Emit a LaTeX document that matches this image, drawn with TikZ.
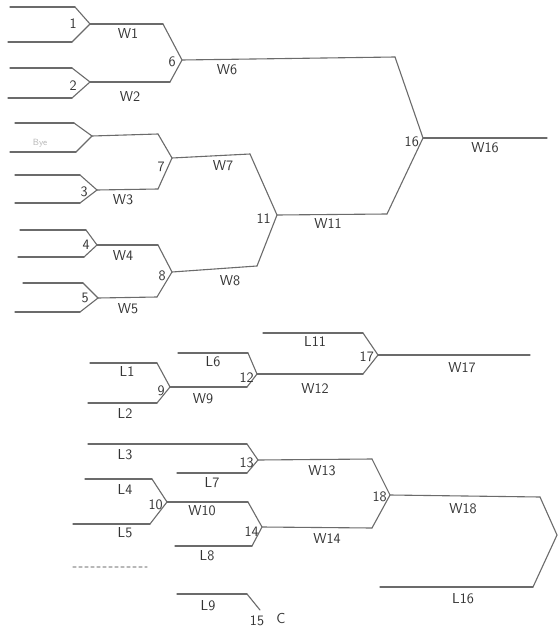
\documentclass[tikz,border=0pt]{standalone}
\usepackage{tikz}
\definecolor{c0}{rgb}{0.42,0.42,0.42}
\definecolor{c1}{rgb}{0.20,0.20,0.20}
\definecolor{c2}{rgb}{0.72,0.72,0.72}
\tikzset{%
  pencil/.style={draw=#1,line width=1.1pt,line cap=round},
  pencil/.default=c0,
  lbl/.style={font=\sffamily\Large,text=c1,inner sep=1pt},
  seed/.style={lbl,anchor=east}
}
\NewDocumentCommand\slot{mmmO{c0}}{%
  \coordinate (#1s) at (#2);
  \coordinate (#1e) at (#3);
  \draw[pencil=#4] (#1s)--(#1e);
}
\NewDocumentCommand\game{mmm}{%
  \draw[pencil] (#2)--(#1)--(#3);
}

\begin{document}
\begin{tikzpicture}[x=1pt,y=-1pt]
  \useasboundingbox[fill=white] (0,0) rectangle (558,631);
  % Winners bracket, first round
  \coordinate (g1) at (90,24);
  \coordinate (g2) at (90,82);
  \coordinate (gB) at (92,136);
  \coordinate (g3) at (97,190);
  \coordinate (g4) at (97,245);
  \coordinate (g5) at (98,298);
  \slot{p1}{10,7}{75,7}
  \slot{q1}{8,42}{72,42}
  \slot{p2}{10,68}{72,68}
  \slot{q2}{8,98}{72,98}
  \slot{pB}{15,123}{74,123}
  \slot{qB}{10,152}{76,152}
  \slot{p3}{15,175}{80,175}
  \slot{q3}{15,203}{80,203}
  \slot{p4}{20,230}{86,230}
  \slot{q4}{18,257}{84,257}
  \slot{p5}{23,283}{83,283}
  \slot{q5}{15,312}{80,312}
  \game{g1}{p1e}{q1e}
  \game{g2}{p2e}{q2e}
  \game{gB}{pBe}{qBe}
  \game{g3}{p3e}{q3e}
  \game{g4}{p4e}{q4e}
  \game{g5}{p5e}{q5e}
  \node[seed] (n1) at (g1) [xshift=-12pt] {1};
  \node[seed] (n2) at (g2) [xshift=-12pt,yshift=-4pt] {2};
  \node[lbl,text=c2,font=\sffamily\small] (nB) at (40,143) {Bye};
  \node[seed] (n3) at (g3) [xshift=-8pt,yshift=-2pt] {3};
  \node[seed] (n4) at (g4) [xshift=-6pt] {4};
  \node[seed] (n5) at (g5) [xshift=-8pt] {5};
  % Winners bracket, later rounds
  \coordinate (g6) at (182,60);
  \coordinate (g7) at (172,158);
  \coordinate (g8) at (172,272);
  \coordinate (g11) at (277,215);
  \coordinate (g16) at (423,138);
  \slot{w1}{g1}{163,24}
  \slot{w2}{g2}{170,82}
  \slot{wB}{gB}{158,134}
  \slot{w3}{g3}{158,189}
  \slot{w4}{g4}{158,245}
  \slot{w5}{g5}{157,297}
  \slot{w6}{g6}{395,57}
  \slot{w7}{g7}{250,154}
  \slot{w8}{g8}{257,266}
  \slot{w11}{g11}{387,214}
  \slot{w16}{g16}{547,138}
  \game{g6}{w1e}{w2e}
  \game{g7}{wBe}{w3e}
  \game{g8}{w4e}{w5e}
  \game{g11}{w7e}{w8e}
  \game{g16}{w6e}{w11e}
  \node[lbl] (tW1) at (128,34) {W1};
  \node[lbl] (tW2) at (130,97) {W2};
  \node[lbl] (tW3) at (123,200) {W3};
  \node[lbl] (tW4) at (123,256) {W4};
  \node[lbl] (tW5) at (128,309) {W5};
  \node[lbl] (tW6) at (227,70) {W6};
  \node[lbl] (tW7) at (223,166) {W7};
  \node[lbl] (tW8) at (230,281) {W8};
  \node[lbl] (tW11) at (328,224) {W11};
  \node[lbl] (tW16) at (485,148) {W16};
  \node[seed] (n6) at (g6) [xshift=-5pt,yshift=-2pt] {6};
  \node[seed] (n7) at (g7) [xshift=-6pt,yshift=-9pt] {7};
  \node[seed] (n8) at (g8) [xshift=-5pt,yshift=-4pt] {8};
  \node[seed] (n11) at (g11) [xshift=-5pt,yshift=-4pt] {11};
  \node[seed] (n16) at (g16) [xshift=-3pt,yshift=-4pt] {16};
  % Losers bracket
  \coordinate (g9) at (170,387);
  \coordinate (g10) at (167,502);
  \coordinate (g12) at (257,374);
  \coordinate (g13) at (258,460);
  \coordinate (g14) at (262,527);
  \coordinate (g17) at (378,355);
  \coordinate (g18) at (390,495);
  \coordinate (gF) at (557,535);
  \coordinate (g15) at (260,610);
  \slot{l1}{90,363}{157,363}
  \slot{l2}{88,403}{157,403}
  \slot{l6}{178,353}{248,353}
  \slot{l11}{263,333}{363,333}
  \slot{l3}{88,444}{247,444}
  \slot{l7}{177,473}{247,473}
  \slot{l4}{85,479}{152,479}
  \slot{l5}{73,524}{150,524}
  \slot{l8}{175,546}{252,546}
  \slot{l9}{177,594}{247,594}
  \slot{l16}{380,587}{533,587}
  \slot{w9}{g9}{247,387}
  \slot{w10}{g10}{248,502}
  \slot{w12}{g12}{363,374}
  \slot{w13}{g13}{372,459}
  \slot{w14}{g14}{372,528}
  \slot{w17}{g17}{530,355}
  \slot{w18}{g18}{540,497}
  \coordinate (xs) at (73,567);
  \coordinate (xe) at (147,567);
  \draw[pencil=c2,dashed] (xs)--(xe);
  \game{g9}{l1e}{l2e}
  \game{g12}{l6e}{w9e}
  \game{g17}{l11e}{w12e}
  \game{g13}{l3e}{l7e}
  \game{g10}{l4e}{l5e}
  \game{g14}{w10e}{l8e}
  \game{g18}{w13e}{w14e}
  \game{gF}{w18e}{l16e}
  \draw[pencil] (l9e)--(g15);
  \node[lbl] (tL1) at (127,371) {L1};
  \node[lbl] (tL2) at (125,413) {L2};
  \node[lbl] (tL6) at (213,362) {L6};
  \node[lbl] (tL11) at (315,341) {L11};
  \node[lbl] (tW9) at (203,399) {W9};
  \node[lbl] (tW12) at (315,388) {W12};
  \node[lbl] (tW17) at (462,368) {W17};
  \node[lbl] (tL3) at (125,455) {L3};
  \node[lbl] (tL7) at (212,483) {L7};
  \node[lbl] (tL4) at (125,489) {L4};
  \node[lbl] (tL5) at (125,533) {L5};
  \node[lbl] (tL8) at (207,556) {L8};
  \node[lbl] (tL9) at (208,606) {L9};
  \node[lbl] (tW10) at (202,511) {W10};
  \node[lbl] (tW13) at (322,471) {W13};
  \node[lbl] (tW14) at (327,538) {W14};
  \node[lbl] (tW18) at (463,509) {W18};
  \node[lbl] (tL16) at (463,599) {L16};
  \node[seed] (n9) at (g9) [xshift=-4pt,yshift=-4pt] {9};
  \node[seed] (n12) at (g12) [xshift=-2pt,yshift=-4pt] {12};
  \node[seed] (n17) at (g17) [xshift=-3pt,yshift=-2pt] {17};
  \node[seed] (n13) at (g13) [xshift=-3pt,yshift=-3pt] {13};
  \node[seed] (n10) at (g10) [xshift=-3pt,yshift=-3pt] {10};
  \node[seed] (n14) at (g14) [xshift=-2pt,yshift=-5pt] {14};
  \node[seed] (n18) at (g18) [xshift=-2pt,yshift=-2pt] {18};
  \node[lbl] (n15) at (257,621) {15};
  \node[lbl] (nC) at (281,618) {C};
\end{tikzpicture}
\end{document}
